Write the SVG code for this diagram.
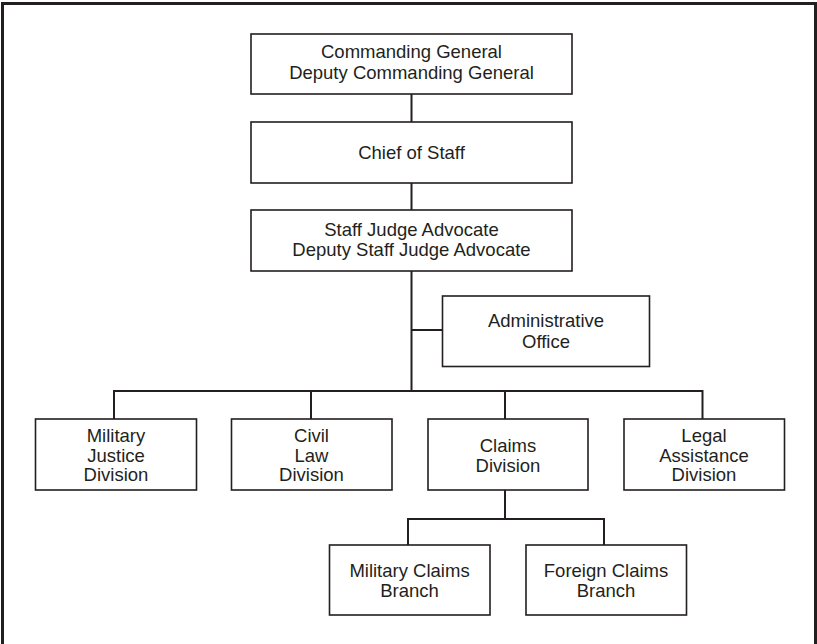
<svg xmlns="http://www.w3.org/2000/svg" width="817" height="644" viewBox="0 0 817 644">
<style>
  .box{fill:#fff;stroke:#231f20;stroke-width:1.6}
  .lbl{font-family:"Liberation Sans",Arial,sans-serif;font-size:18.5px;fill:#231f20;text-anchor:middle}
  .con{fill:none;stroke:#231f20;stroke-width:2}
</style>
<rect width="817" height="644" fill="#fff"/>
<path d="M2.5,650 V3.5 H815.5 V650" fill="none" stroke="#231f20" stroke-width="3"/>
<g id="connectors">
  <path class="con" d="M411.5,94 V122"/>
  <path class="con" d="M411.5,183 V210"/>
  <path class="con" d="M411.5,271 V391"/>
  <path class="con" d="M411.5,330 H442"/>
  <path class="con" d="M114,391 H702.5"/>
  <path class="con" d="M114,390 V419"/>
  <path class="con" d="M311,390 V419"/>
  <path class="con" d="M505,390 V419"/>
  <path class="con" d="M702.5,390 V419"/>
  <path class="con" d="M505,490 V519"/>
  <path class="con" d="M408,519 H604"/>
  <path class="con" d="M408,518 V545"/>
  <path class="con" d="M604,518 V545"/>
</g>
<g id="commanding-general">
  <rect class="box" x="251" y="34" width="321" height="60"/>
  <text class="lbl" x="411.5" y="58.3">Commanding General</text>
  <text class="lbl" x="411.5" y="78.8">Deputy Commanding General</text>
</g>
<g id="chief-of-staff">
  <rect class="box" x="251" y="122" width="321" height="61"/>
  <text class="lbl" x="411.5" y="158.5">Chief of Staff</text>
</g>
<g id="staff-judge-advocate">
  <rect class="box" x="251" y="210" width="321" height="61"/>
  <text class="lbl" x="411.5" y="235.5">Staff Judge Advocate</text>
  <text class="lbl" x="411.5" y="256">Deputy Staff Judge Advocate</text>
</g>
<g id="administrative-office">
  <rect class="box" x="442.5" y="296" width="207" height="70.5"/>
  <text class="lbl" x="546" y="327">Administrative</text>
  <text class="lbl" x="546" y="347.5">Office</text>
</g>
<g id="military-justice-division">
  <rect class="box" x="35.5" y="419" width="161" height="71"/>
  <text class="lbl" x="116" y="442">Military</text>
  <text class="lbl" x="116" y="461.5">Justice</text>
  <text class="lbl" x="116" y="481">Division</text>
</g>
<g id="civil-law-division">
  <rect class="box" x="231.5" y="419" width="160.5" height="71"/>
  <text class="lbl" x="311.5" y="442">Civil</text>
  <text class="lbl" x="311.5" y="461.5">Law</text>
  <text class="lbl" x="311.5" y="481">Division</text>
</g>
<g id="claims-division">
  <rect class="box" x="428" y="419" width="160" height="71"/>
  <text class="lbl" x="508" y="452">Claims</text>
  <text class="lbl" x="508" y="471.5">Division</text>
</g>
<g id="legal-assistance-division">
  <rect class="box" x="624" y="419" width="160.5" height="71"/>
  <text class="lbl" x="704" y="442">Legal</text>
  <text class="lbl" x="704" y="461.5">Assistance</text>
  <text class="lbl" x="704" y="481">Division</text>
</g>
<g id="military-claims-branch">
  <rect class="box" x="329.5" y="545" width="160.5" height="70"/>
  <text class="lbl" x="409.5" y="577">Military Claims</text>
  <text class="lbl" x="409.5" y="597">Branch</text>
</g>
<g id="foreign-claims-branch">
  <rect class="box" x="526" y="545" width="160.5" height="70"/>
  <text class="lbl" x="606" y="577">Foreign Claims</text>
  <text class="lbl" x="606" y="597">Branch</text>
</g>
</svg>
